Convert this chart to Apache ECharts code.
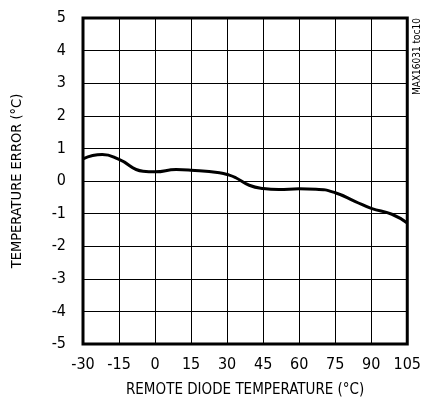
<!DOCTYPE html>
<html><head><meta charset="utf-8">
<script src="https://cdn.jsdelivr.net/npm/echarts@6/dist/echarts.min.js"></script>
<style>html,body{margin:0;padding:0;background:#fff}#c{width:424px;height:403px}</style>
</head><body><div id="c"></div>
<script>
var temps = [-30, -22, -15, -5, 0, 8.8, 15, 26.8, 30.9, 33.6, 39.2, 45, 51.5, 60, 67, 75, 83.4, 90, 98.6, 105];
var errors = [0.68, 0.81, 0.66, 0.30, 0.28, 0.35, 0.33, 0.25, 0.18, 0.10, -0.13, -0.23, -0.26, -0.24, -0.25, -0.36, -0.63, -0.84, -1.02, -1.29];
var xTicks = [-30, -15, 0, 15, 30, 45, 60, 75, 90, 105];
var yTicks = [-5, -4, -3, -2, -1, 0, 1, 2, 3, 4, 5];
var FONT = '"DejaVu Sans Condensed", "Liberation Sans Narrow", sans-serif';
var chart = echarts.init(document.getElementById('c'), null, {renderer: 'canvas'});
chart.setOption({
  animation: false,
  grid: {left: 83, right: 15, top: 18, bottom: 56, show: true, borderColor: '#000', borderWidth: 3},
  xAxis: {
    type: 'value', min: xTicks[0], max: xTicks[xTicks.length-1], interval: 15,
    name: 'REMOTE DIODE TEMPERATURE (°C)', nameLocation: 'middle', nameGap: 39,
    nameTextStyle: {fontFamily: FONT, fontSize: 15, color: '#000'},
    axisLine: {show: false}, axisTick: {show: false},
    axisLabel: {fontFamily: FONT, fontSize: 16, color: '#000', margin: 13},
    splitLine: {show: true, lineStyle: {color: '#000', width: 1}}
  },
  yAxis: {
    type: 'value', min: yTicks[0], max: yTicks[yTicks.length-1], interval: 1,
    name: 'TEMPERATURE ERROR (°C)', nameLocation: 'middle', nameGap: 58,
    nameTextStyle: {fontFamily: FONT, fontSize: 14.5, color: '#000'},
    axisLine: {show: false}, axisTick: {show: false},
    axisLabel: {fontFamily: FONT, fontSize: 16, color: '#000', margin: 17},
    splitLine: {show: true, lineStyle: {color: '#000', width: 1}}
  },
  graphic: [{
    type: 'text', left: 412, top: 18, rotation: Math.PI/2,
    style: {text: 'MAX16031 toc10', font: '10px ' + FONT, fill: '#000'}
  }],
  series: [{
    type: 'line', smooth: 0.5, symbol: 'none',
    data: temps.map(function(t, i){ return [t, errors[i]]; }),
    lineStyle: {color: '#000', width: 3}
  }]
});
</script></body></html>
